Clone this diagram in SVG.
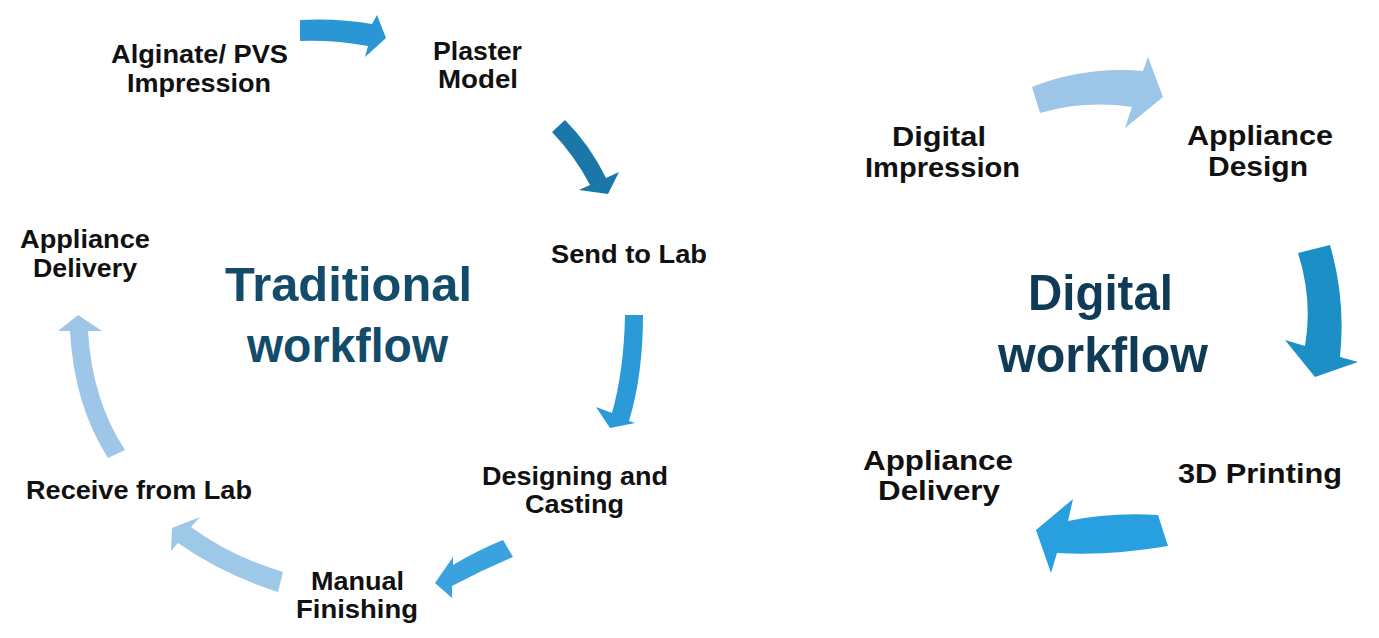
<svg xmlns="http://www.w3.org/2000/svg" width="1379" height="638" viewBox="0 0 1379 638">
<style>
.lbl{font-family:"Liberation Sans",Arial,sans-serif;font-weight:bold;font-size:25px;fill:#111;text-anchor:middle}
.lblr{font-family:"Liberation Sans",Arial,sans-serif;font-weight:bold;font-size:28px;fill:#111;text-anchor:middle}
.ttl{font-family:"Liberation Sans",Arial,sans-serif;font-weight:bold;font-size:49px;fill:#134b6a;text-anchor:middle}
.ttlr{font-family:"Liberation Sans",Arial,sans-serif;font-weight:bold;font-size:50px;fill:#0f3b57;text-anchor:middle}
</style>
<rect width="1379" height="638" fill="#ffffff"/>
<g id="connectors">
  <path id="a1" fill="#2a96d4" d="M300,20 Q338,18 372,24 L377,15 L386,38 L365,57 L368,46 Q335,40 300,41 Z"/>
  <path id="a2" fill="#1b77a7" d="M565,120 Q590,145 606,178 L619,172 L608,194 L579,190 L590,185 Q575,156 552,132 Z"/>
  <path id="a3" fill="#2a9ad9" d="M625,315 L643,315 Q643,375 629,421 L635,423 L610,428 L596,407 L612,413 Q624,370 625,315 Z"/>
  <path id="a4" fill="#3aa2de" d="M503,540 Q478,550 453,565 L453,557 L435,583 L452,598 L452,586 Q482,570 513,557 Z"/>
  <path id="a5" fill="#9ec8e8" d="M283,572 Q230,556 191,527 L200,517 L172,528 L171,551 L178,543 Q222,574 278,592 Z"/>
  <path id="a6" fill="#9dc6e8" d="M70,331 L58,331 L78,315 L102,331 L88,331 Q92,400 125,450 L108,458 Q74,405 70,331 Z"/>
  <path id="a7" fill="#9cc5e7" d="M1032,87 Q1085,66 1143,71 L1148,57 L1163,97 L1125,128 L1132,107 Q1085,100 1040,113 Z"/>
  <path id="a8" fill="#1b8fc6" d="M1298,253 L1330,245 Q1346,300 1340,357 L1358,362 L1315,377 L1285,340 L1305,346 Q1313,300 1298,253 Z"/>
  <path id="a9" fill="#28a0e0" d="M1158,515 Q1110,512 1068,521 L1073,499 L1036,530 L1051,573 L1057,553 Q1110,556 1168,546 Z"/>
</g>
<g id="n-alginate"><text class="lbl" x="199.5" y="63" textLength="177" lengthAdjust="spacingAndGlyphs">Alginate/ PVS</text><text class="lbl" x="199" y="92" textLength="144" lengthAdjust="spacingAndGlyphs">Impression</text></g>
<g id="n-plaster"><text class="lbl" x="477.5" y="60" textLength="89" lengthAdjust="spacingAndGlyphs">Plaster</text><text class="lbl" x="478" y="88" textLength="80" lengthAdjust="spacingAndGlyphs">Model</text></g>
<g id="n-send"><text class="lbl" x="629" y="263" textLength="156" lengthAdjust="spacingAndGlyphs">Send to Lab</text></g>
<g id="n-designing"><text class="lbl" x="575" y="485" textLength="186" lengthAdjust="spacingAndGlyphs">Designing and</text><text class="lbl" x="574.5" y="513" textLength="99" lengthAdjust="spacingAndGlyphs">Casting</text></g>
<g id="n-manual"><text class="lbl" x="357.5" y="590" textLength="93" lengthAdjust="spacingAndGlyphs">Manual</text><text class="lbl" x="357" y="618" textLength="122" lengthAdjust="spacingAndGlyphs">Finishing</text></g>
<g id="n-receive"><text class="lbl" x="139" y="499" textLength="226" lengthAdjust="spacingAndGlyphs">Receive from Lab</text></g>
<g id="n-delivery-l"><text class="lbl" x="85" y="248" textLength="130" lengthAdjust="spacingAndGlyphs">Appliance</text><text class="lbl" x="85" y="277" textLength="104" lengthAdjust="spacingAndGlyphs">Delivery</text></g>
<g id="t-traditional"><text class="ttl" x="348.5" y="301" textLength="247" lengthAdjust="spacingAndGlyphs">Traditional</text><text class="ttl" x="347.5" y="362" textLength="201" lengthAdjust="spacingAndGlyphs">workflow</text></g>
<g id="n-digital-imp"><text class="lblr" x="939" y="146" textLength="94" lengthAdjust="spacingAndGlyphs">Digital</text><text class="lblr" x="942.5" y="177" textLength="155" lengthAdjust="spacingAndGlyphs">Impression</text></g>
<g id="n-design"><text class="lblr" x="1260" y="145" textLength="146" lengthAdjust="spacingAndGlyphs">Appliance</text><text class="lblr" x="1258" y="176" textLength="100" lengthAdjust="spacingAndGlyphs">Design</text></g>
<g id="n-printing"><text class="lblr" x="1260" y="483" textLength="164" lengthAdjust="spacingAndGlyphs">3D Printing</text></g>
<g id="n-delivery-r"><text class="lblr" x="938" y="470" textLength="150" lengthAdjust="spacingAndGlyphs">Appliance</text><text class="lblr" x="939" y="500" textLength="122" lengthAdjust="spacingAndGlyphs">Delivery</text></g>
<g id="t-digital"><text class="ttlr" x="1100.5" y="310" textLength="145" lengthAdjust="spacingAndGlyphs">Digital</text><text class="ttlr" x="1103" y="372" textLength="210" lengthAdjust="spacingAndGlyphs">workflow</text></g>
</svg>
